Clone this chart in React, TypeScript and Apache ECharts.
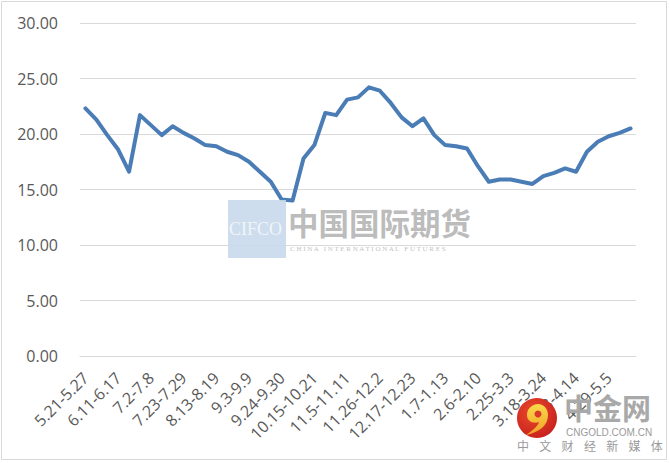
import React, { useEffect, useRef } from "react";
import * as echarts from "echarts";

const categories: string[] = [
  "5.21-5.27", "5.28-6.3", "6.4-6.10", "6.11-6.17", "6.18-6.24", "6.25-7.1",
  "7.2-7.8", "7.9-7.15", "7.16-7.22", "7.23-7.29", "7.30-8.5", "8.6-8.12",
  "8.13-8.19", "8.20-8.26", "8.27-9.2", "9.3-9.9", "9.10-9.16", "9.17-9.23",
  "9.24-9.30", "10.1-10.7", "10.8-10.14", "10.15-10.21", "10.22-10.28", "10.29-11.4",
  "11.5-11.11", "11.12-11.18", "11.19-11.25", "11.26-12.2", "12.3-12.9", "12.10-12.16",
  "12.17-12.23", "12.24-12.30", "12.31-1.6", "1.7-1.13", "1.14-1.20", "1.21-1.27",
  "2.6-2.10", "2.11-2.17", "2.18-2.24", "2.25-3.3", "3.4-3.10", "3.11-3.17",
  "3.18-3.24", "3.25-3.31", "4.1-4.7", "4.8-4.14", "4.15-4.21", "4.22-4.28",
  "4.29-5.5", "5.6-5.12", "5.13-5.19",
];

const values: number[] = [
  22.3, 21.3, 19.9, 18.6, 16.6, 21.7, 20.8, 19.9, 20.7, 20.1,
  19.6, 19.0, 18.9, 18.4, 18.1, 17.5, 16.6, 15.7, 14.1, 14.0,
  17.8, 19.0, 21.9, 21.7, 23.1, 23.3, 24.2, 23.9, 22.8, 21.5,
  20.7, 21.4, 19.9, 19.0, 18.9, 18.7, 17.1, 15.7, 15.9, 15.9,
  15.7, 15.5, 16.2, 16.5, 16.9, 16.6, 18.4, 19.3, 19.8, 20.1, 20.5,
];

const yTicks = { min: 0, max: 30, interval: 5 };

const cifcoSub = "C H I N A   I N T E R N A T I O N A L   F U T U R E S";
const cngoldSub = ["中", "文", "财", "经", "新", "媒", "体"];

try {
  echarts.graphic.registerShape(
    "swirl",
    echarts.graphic.extendPath(
      "M -9 -5 C -9 -12 -3 -16 2 -16 C 8 -16 12 -11 12 -5 C 12 5 4 12 -10 15 C -3 10 2 6 3 2 C -2 4 -9 2 -9 -5 Z",
      {}
    ) as any
  );
} catch (e) {
  /* ignore */
}

export default function App() {
  const ref = useRef<HTMLDivElement>(null);

  useEffect(() => {
    if (!ref.current) return;
    const chart = echarts.init(ref.current, undefined, { renderer: "svg" });

    const cnChars: any[] = cngoldSub.map((c, i) => ({
      type: "text",
      x: 517 + i * 22.3,
      y: 445,
      z: 30,
      style: {
        text: c,
        font: "12px 'Noto Sans CJK SC'",
        fill: "#9a9a9a",
        verticalAlign: "middle",
      },
    }));

    chart.setOption({
      animation: false,
      backgroundColor: "#ffffff",
      grid: { left: 80, right: 34, top: 23, bottom: 107 },
      xAxis: {
        type: "category",
        data: categories,
        boundaryGap: true,
        axisTick: { show: false },
        axisLine: { lineStyle: { color: "#d9d9d9", width: 1 } },
        axisLabel: {
          interval: 2,
          rotate: 45,
          color: "#595959",
          fontSize: 16,
          fontFamily: "Open Sans",
          margin: 19,
        },
      },
      yAxis: {
        type: "value",
        min: yTicks.min,
        max: yTicks.max,
        interval: yTicks.interval,
        axisLine: { show: false },
        axisTick: { show: false },
        splitLine: { lineStyle: { color: "#d9d9d9", width: 1 } },
        axisLabel: {
          formatter: (v: number) => v.toFixed(2),
          color: "#595959",
          fontSize: 16,
          fontFamily: "Open Sans",
          margin: 22,
        },
      },
      series: [
        {
          type: "line",
          data: values,
          symbol: "none",
          smooth: false,
          lineStyle: { color: "#4a7cb5", width: 4, join: "round", cap: "round" },
        },
      ],
      graphic: [
        {
          type: "rect",
          shape: { x: 1.5, y: 1.5, width: 665, height: 458 },
          style: { fill: "none", stroke: "#d9d9d9", lineWidth: 1 },
          z: 0,
        },
        {
          type: "rect",
          shape: { x: 228, y: 200, width: 58, height: 58 },
          style: { fill: "#c9d9eb", opacity: 0.9 },
          z: 20,
        },
        {
          type: "text",
          x: 229,
          y: 229,
          z: 21,
          style: {
            text: "CIFCO",
            font: "18px 'Liberation Serif'",
            fill: "#f0f4fa",
            verticalAlign: "middle",
          },
        },
        {
          type: "text",
          x: 288,
          y: 222,
          z: 20,
          style: {
            text: "中国国际期货",
            font: "bold 30.5px 'Noto Sans CJK SC'",
            fill: "#b3b3b3",
            opacity: 0.9,
            verticalAlign: "middle",
          },
        },
        {
          type: "text",
          x: 290,
          y: 249,
          z: 20,
          style: {
            text: cifcoSub,
            font: "7px 'Liberation Serif'",
            fill: "#c2c2c2",
            verticalAlign: "middle",
          },
        },
        {
          type: "circle",
          shape: { cx: 537, cy: 418, r: 20 },
          z: 30,
          style: {
            fill: new echarts.graphic.RadialGradient(0.4, 0.35, 0.7, [
              { offset: 0, color: "#ea4a2c" },
              { offset: 1, color: "#c7201d" },
            ]),
          },
        },
        {
          type: "swirl",
          x: 536,
          y: 420,
          z: 31,
          style: {
            fill: new echarts.graphic.LinearGradient(0, 0, 0, 1, [
              { offset: 0, color: "#f9d84a" },
              { offset: 1, color: "#f0a026" },
            ]),
          },
        },
        {
          type: "circle",
          shape: { cx: 538, cy: 414, r: 3.5 },
          z: 32,
          style: { fill: "#d9382a" },
        },
        {
          type: "text",
          x: 564,
          y: 407,
          z: 30,
          style: {
            text: "中金网",
            font: "bold 29px 'Noto Sans CJK SC'",
            fill: "#a9a9a9",
            verticalAlign: "middle",
          },
        },
        {
          type: "text",
          x: 566,
          y: 432,
          z: 30,
          style: {
            text: "CNGOLD.COM.CN",
            font: "10px 'Liberation Sans'",
            fill: "#9a9a9a",
            verticalAlign: "middle",
          },
        },
        ...cnChars,
      ],
    });

    return () => chart.dispose();
  }, []);

  return (
    <div
      ref={ref}
      style={{ position: "fixed", left: 0, top: 0, width: 670, height: 463 }}
    />
  );
}
